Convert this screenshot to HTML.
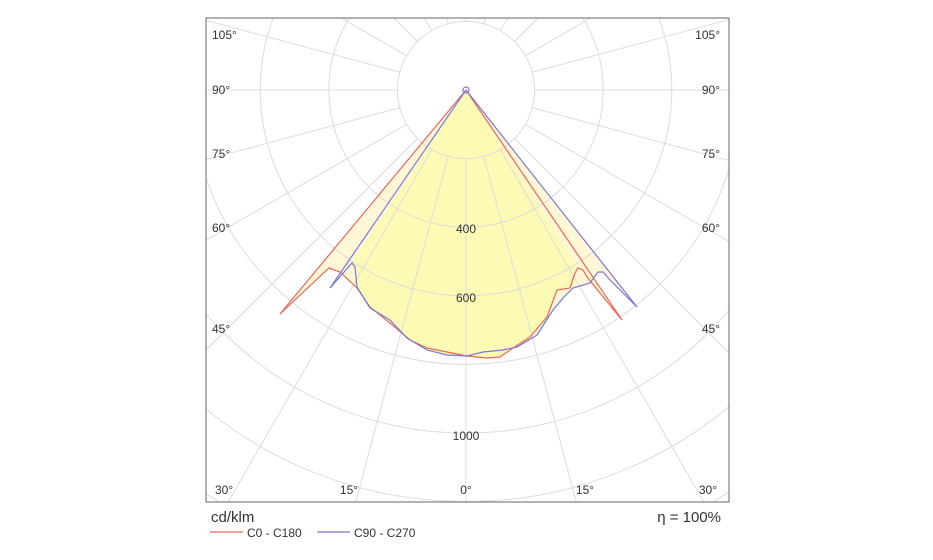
<!DOCTYPE html>
<html><head><meta charset="utf-8"><style>
html,body{margin:0;padding:0;background:#fff;overflow:hidden;}
svg{display:block;font-family:"Liberation Sans",sans-serif;}
</style></head><body>
<svg width="933" height="560" viewBox="0 0 933 560" xmlns="http://www.w3.org/2000/svg">
<defs><clipPath id="c"><rect x="206" y="18" width="523" height="484"/></clipPath></defs>
<rect x="206" y="18" width="523" height="484" fill="#fff"/>
<g clip-path="url(#c)">
<path d="M466,90 L280,314 L329,268 L340,272 L357,288 L370,307 L390,323 L410,340 L427,348 L447,352 L467,356 L487,358 L500,357 L510,350 L530,337 L547,317 L557,290 L570,288 L575,273 L578,268 L583,270 L587,277 L622,320 Z" fill="#fff7d6"/>
<path d="M466,90 L330,288 L352,263 L355,267 L357,287 L370,308 L390,320 L407,338 L427,350 L447,355 L467,356 L483,352 L503,350 L517,347 L537,335 L553,310 L563,298 L573,288 L590,283 L598,272 L603,272 L610,280 L637,307 Z" fill="#fff7d6"/>
<path d="M466,90 L352,263 L355,267 L357,287 L370,308 L390,320 L407,338 L427,350 L447,355 L467,356 L487,358 L500,357 L510,350 L530,337 L547,317 L557,290 L570,288 L575,273 L578,268 L466,90 Z" fill="#fdfab5"/>
<g fill="none" stroke="#dcdcdc" stroke-width="1">
<circle cx="466" cy="90" r="68.6"/><circle cx="466" cy="90" r="137.2"/><circle cx="466" cy="90" r="205.8"/><circle cx="466" cy="90" r="274.4"/><circle cx="466" cy="90" r="343"/><circle cx="466" cy="90" r="411.6"/><circle cx="466" cy="90" r="480.2"/><circle cx="466" cy="90" r="548.8"/>
<path d="M466,158.6 L466,890 M483.75,156.26 L673,862.7 M448.25,156.26 L259,862.7 M500.3,149.4 L866,782.8 M431.7,149.4 L66,782.8 M514.5,138.5 L1031.7,655.7 M417.5,138.5 L-99.7,655.7 M525.4,124.3 L1158.8,490 M406.6,124.3 L-226.8,490 M532.26,107.75 L1238.7,297 M399.74,107.75 L-306.7,297 M534.6,90 L1266,90 M397.4,90 L-334,90 M532.26,72.25 L1238.7,-117 M399.74,72.25 L-306.7,-117 M525.4,55.7 L1158.8,-310 M406.6,55.7 L-226.8,-310 M514.5,41.5 L1031.7,-475.7 M417.5,41.5 L-99.7,-475.7 M500.3,30.6 L866,-602.8 M431.7,30.6 L66,-602.8 M483.75,23.74 L673,-682.7 M448.25,23.74 L259,-682.7 M466,21.4 L466,-710"/>
</g>
</g>
<g clip-path="url(#c)" fill="none" stroke-width="1.2">
<path d="M466,90 L280,314 L329,268 L340,272 L357,288 L370,307 L390,323 L410,340 L427,348 L447,352 L467,356 L487,358 L500,357 L510,350 L530,337 L547,317 L557,290 L570,288 L575,273 L578,268 L583,270 L587,277 L622,320 L466,90" stroke="#e8685a"/>
<path d="M466,90 L330,288 L352,263 L355,267 L357,287 L370,308 L390,320 L407,338 L427,350 L447,355 L467,356 L483,352 L503,350 L517,347 L537,335 L553,310 L563,298 L573,288 L590,283 L598,272 L603,272 L610,280 L637,307 L466,90" stroke="#7a78d8"/>
<circle cx="466" cy="90" r="3" stroke="#9a6ac8"/>
</g>
<rect x="206" y="18" width="523" height="484" fill="none" stroke="#666" stroke-width="1"/>
<g font-size="12" fill="#333">
<text x="212" y="39">105°</text><text x="212" y="94">90°</text><text x="212" y="158">75°</text><text x="212" y="232">60°</text><text x="212" y="333">45°</text><text x="215" y="494">30°</text>
<g text-anchor="end"><text x="720" y="39">105°</text><text x="720" y="94">90°</text><text x="720" y="158">75°</text><text x="720" y="232">60°</text><text x="720" y="333">45°</text><text x="717" y="494">30°</text></g>
<g text-anchor="middle"><text x="349" y="494">15°</text><text x="466" y="494">0°</text><text x="585" y="494">15°</text>
<text x="466" y="233">400</text><text x="466" y="302">600</text><text x="466" y="440">1000</text></g>
</g>
<text x="211" y="522" font-size="15" fill="#333">cd/klm</text>
<text x="721" y="522" font-size="15" fill="#333" text-anchor="end">η = 100%</text>
<line x1="210" y1="532" x2="243" y2="532" stroke="#e8685a" stroke-width="1.2"/>
<text x="247" y="537" font-size="12" fill="#333">C0 - C180</text>
<line x1="317" y1="532" x2="350" y2="532" stroke="#7a78d8" stroke-width="1.2"/>
<text x="354" y="537" font-size="12" fill="#333">C90 - C270</text>
</svg>
</body></html>
